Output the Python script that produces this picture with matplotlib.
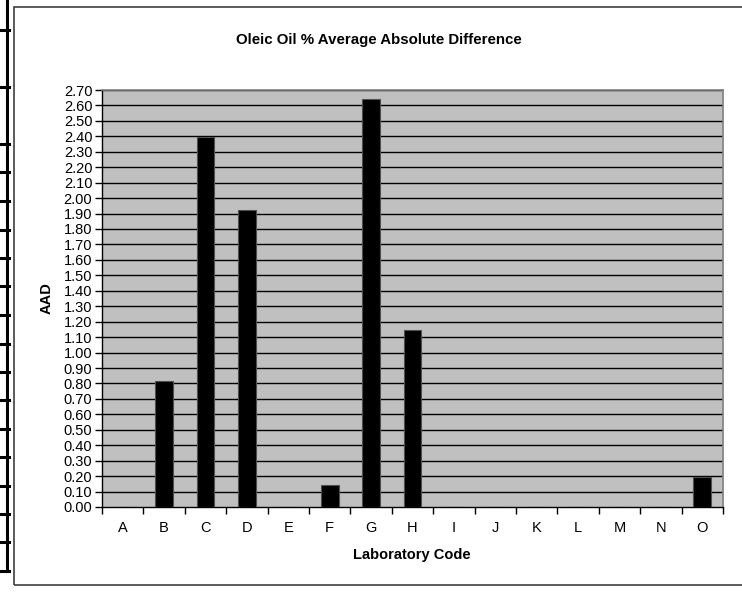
import matplotlib
matplotlib.use("Agg")
import matplotlib.pyplot as plt
from matplotlib.patches import Rectangle
from matplotlib.lines import Line2D
import numpy as np

labs = ["A", "B", "C", "D", "E", "F", "G", "H", "I", "J", "K", "L", "M", "N", "O"]
aad = [0.0, 0.815, 2.395, 1.925, 0.0, 0.145, 2.64, 1.145, 0.0, 0.0, 0.0, 0.0, 0.0, 0.0, 0.195]
yticks = [round(0.1 * i, 2) for i in range(28)]

plt.rcParams['font.family'] = ['Liberation Sans', 'DejaVu Sans']

W, H = 742, 595
fig = plt.figure(figsize=(W / 100, H / 100), dpi=100)

def fx(x):
    return x / W

def fy(y):
    return 1 - y / H

# remnants of spreadsheet table on left edge
fig.add_artist(Line2D([fx(7.5), fx(7.5)], [fy(0), fy(571)], color='black', lw=2.2))
for y in [30, 87, 144, 172, 201, 230, 258, 286, 315, 344, 372, 400, 429, 457, 486, 514, 542, 571]:
    fig.add_artist(Line2D([fx(0), fx(8.5)], [fy(y), fy(y)], color='black', lw=2.2))

# chart frame
fig.add_artist(Rectangle((fx(14), fy(585)), fx(742 - 14 + 5), fy(7) - fy(585),
                         fill=False, edgecolor='#404040', lw=1.2))

L, R, T, B = 102, 723, 90, 507
ax = fig.add_axes([fx(L), fy(B), fx(R - L), fy(T) - fy(B)])
ax.set_facecolor('#C0C0C0')
x = np.arange(len(labs))
for i, v in enumerate(yticks):
    if i == 0:
        continue
    ax.axhline(v, color='black', lw=1.0, zorder=1)
ax.bar(x, aad, width=0.43, color='black', edgecolor='#505050', lw=0.8, zorder=3)
ax.set_xlim(-0.5, len(labs) - 0.5)
ax.set_ylim(0, 2.70)
ax.set_yticks(yticks)
ax.set_yticklabels([f"{v:.2f}" for v in yticks], fontsize=10.5)
ax.set_xticks(x)
ax.set_xticklabels(labs, fontsize=10.5)
ax.set_xticks(np.arange(len(labs) + 1) - 0.5, minor=True)
ax.tick_params(axis='x', which='major', length=0, pad=10)
ax.tick_params(axis='x', which='minor', length=5, width=1, color='black', direction='out')
ax.tick_params(axis='y', length=5, width=1, color='black', direction='out', pad=2)
for s in ['top', 'right']:
    ax.spines[s].set_color('#808080')
    ax.spines[s].set_linewidth(1.2)
for s in ['left', 'bottom']:
    ax.spines[s].set_color('black')
    ax.spines[s].set_linewidth(1.0)

fig.text(fx(379), fy(40), "Oleic Oil % Average Absolute Difference", ha='center', va='center',
         fontsize=10.8, fontweight='bold')
fig.text(fx(412), fy(555), "Laboratory Code", ha='center', va='center', fontsize=10.5, fontweight='bold')
fig.text(fx(47), fy(298), "AAD", ha='center', va='center', fontsize=10.5, fontweight='bold', rotation=90)

fig.savefig("out.png", dpi=100)
